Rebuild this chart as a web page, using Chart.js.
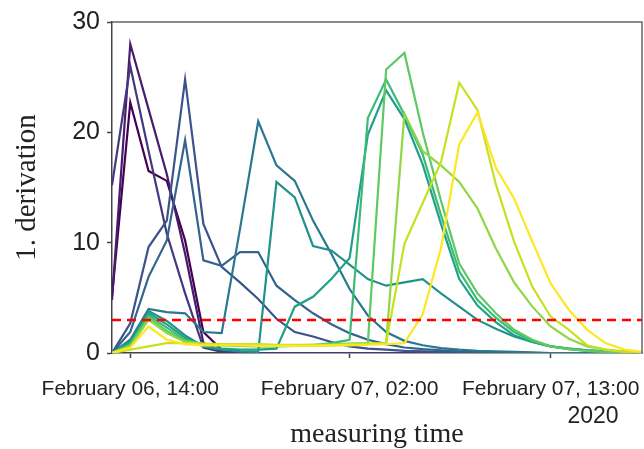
<!DOCTYPE html>
<html>
<head>
<meta charset="utf-8">
<script src="https://cdn.jsdelivr.net/npm/chart.js@4.4.1/dist/chart.umd.min.js"></script>
<style>
  body { margin: 0; background: #fff; }
</style>
</head>
<body>
<canvas id="derivChart" width="644" height="449"></canvas>
<script>
// hours counted from February 06, 00:00 - one reading per hour
const hours = [13, 14, 15, 16, 17, 18, 19, 20, 21, 22, 23, 24, 25, 26, 27,
               28, 29, 30, 31, 32, 33, 34, 35, 36, 37, 38, 39, 40, 41, 42];

// first derivative per measuring point, ordered by when the peak comes
const point01 = [5.1, 22.7, 16.5, 15.6, 10.2, 1.9, 0.3, 0.1, 0, 0, 0, 0, 0, 0, 0, 0, 0, 0, 0, 0, 0, 0, 0, 0, 0, 0, 0, 0, 0, 0];
const point02 = [4.8, 28.0, 22.1, 16.2, 9.0, 0.9, 0.2, 0.05, 0, 0, 0, 0, 0, 0, 0, 0, 0, 0, 0, 0, 0, 0, 0, 0, 0, 0, 0, 0, 0, 0];
const point03 = [15.2, 26.0, 18.3, 10.8, 5.4, 0.5, 0.1, 0, 0, 0, 0, 0, 0, 0, 0, 0, 0, 0, 0, 0, 0, 0, 0, 0, 0, 0, 0, 0, 0, 0];
const point04 = [0, 2.7, 9.6, 12.0, 24.8, 11.7, 7.8, 6.4, 4.9, 3.1, 1.9, 1.5, 1.0, 0.6, 0.4, 0.3, 0.2, 0.15, 0.1, 0.05, 0, 0, 0, 0, 0, 0, 0, 0, 0, 0];
const point05 = [0, 1.9, 6.9, 10.2, 19.3, 8.4, 7.9, 9.15, 9.15, 6.1, 4.8, 3.6, 2.6, 1.8, 1.2, 0.8, 0.5, 0.35, 0.25, 0.15, 0.1, 0.05, 0, 0, 0, 0, 0, 0, 0, 0];
const point06 = [0, 1.2, 4.0, 3.7, 3.6, 1.9, 1.8, 11.2, 21.0, 17.0, 15.6, 12.0, 9.0, 5.8, 3.4, 1.9, 1.1, 0.7, 0.45, 0.3, 0.2, 0.15, 0.1, 0.05, 0, 0, 0, 0, 0, 0];
const point07 = [0, 1.0, 3.8, 2.9, 1.6, 0.6, 0.3, 0.15, 0.1, 15.5, 14.1, 9.7, 9.3, 8.0, 6.7, 6.1, 6.4, 6.7, 5.4, 4.2, 3.0, 2.2, 1.5, 1.0, 0.6, 0.4, 0.25, 0.15, 0.1, 0.05];
const point08 = [0, 1.0, 3.6, 2.6, 1.4, 0.6, 0.4, 0.3, 0.3, 0.4, 4.2, 5.1, 6.7, 8.6, 19.8, 23.8, 21.2, 17.1, 11.7, 6.7, 4.3, 2.8, 1.6, 1.0, 0.6, 0.4, 0.25, 0.15, 0.1, 0.05];
const point09 = [0, 0.8, 3.4, 2.3, 1.2, 0.8, 0.7, 0.65, 0.6, 0.6, 0.65, 0.7, 0.9, 1.2, 21.3, 24.8, 21.6, 18.0, 12.5, 7.4, 4.8, 3.2, 1.9, 1.1, 0.6, 0.35, 0.2, 0.1, 0.05, 0];
const point10 = [0, 0.7, 3.2, 2.0, 1.1, 0.8, 0.75, 0.7, 0.7, 0.7, 0.7, 0.75, 0.8, 0.85, 0.9, 25.7, 27.2, 20.0, 13.8, 8.1, 5.4, 3.6, 2.1, 1.2, 0.6, 0.35, 0.2, 0.1, 0.05, 0];
const point11 = [0, 0.6, 3.0, 1.8, 1.0, 0.8, 0.8, 0.75, 0.75, 0.7, 0.7, 0.7, 0.7, 0.75, 0.8, 0.9, 21.7, 18.3, 17.0, 15.5, 13.1, 9.5, 6.4, 4.2, 2.4, 1.3, 0.6, 0.3, 0.15, 0.05];
const point12 = [0, 0.3, 0.6, 0.9, 0.9, 0.85, 0.8, 0.8, 0.8, 0.75, 0.75, 0.75, 0.75, 0.8, 0.85, 0.9, 9.9, 13.6, 17.3, 24.5, 22.0, 15.3, 10.1, 6.0, 3.3, 2.1, 0.7, 0.3, 0.1, 0.05];
const point13 = [0, 0.5, 2.4, 1.2, 0.8, 0.7, 0.7, 0.7, 0.65, 0.65, 0.65, 0.65, 0.7, 0.7, 0.75, 0.8, 0.9, 3.5, 9.5, 18.9, 21.8, 16.8, 14.0, 10.1, 6.3, 3.9, 2.1, 0.9, 0.33, 0.1];

const seriesValues = [point01, point02, point03, point04, point05, point06, point07,
                      point08, point09, point10, point11, point12, point13];
// viridis, dark to light
const seriesColors = ['#440154', '#481b6d', '#453781', '#3b528b', '#32648e', '#2a788e', '#21918c',
                      '#1fa187', '#3bbb75', '#5ec962', '#8fd744', '#c8e020', '#fde725'];

const thresholdValue = 3;
const yTicks = [0, 10, 20, 30];
const tickHours = [14, 26, 37];
const tickLabels = ['February 06, 14:00', 'February 07, 02:00', 'February 07, 13:00'];
const yearLabel = '2020';

const sansFont = "'Liberation Sans', Arial, sans-serif";
const serifFont = "'Liberation Serif', 'Times New Roman', serif";

const datasets = seriesValues.map((vals, i) => ({
    data: vals.map((v, j) => ({x: hours[j], y: v})),
    borderColor: seriesColors[i],
    borderWidth: 2.2,
    pointRadius: 0,
    tension: 0,
    fill: false,
    order: seriesValues.length - i   // lighter lines end up on top
}));

datasets.push({
    data: [{x: hours[0], y: thresholdValue}, {x: hours[hours.length - 1], y: thresholdValue}],
    borderColor: '#ff0000',
    borderWidth: 2.5,
    borderDash: [9, 6],
    pointRadius: 0,
    fill: false,
    order: -1
});

// closes the box on top/right and puts the year under the last tick
const frameAndYear = {
    id: 'frameAndYear',
    afterDraw(chart) {
        const {ctx, chartArea} = chart;
        ctx.save();
        ctx.strokeStyle = '#666';
        ctx.lineWidth = 1.5;
        ctx.beginPath();
        ctx.moveTo(chartArea.left, chartArea.top);
        ctx.lineTo(chartArea.right, chartArea.top);
        ctx.lineTo(chartArea.right, chartArea.bottom);
        ctx.stroke();
        ctx.fillStyle = '#222';
        ctx.font = '23px ' + sansFont;
        ctx.textAlign = 'center';
        ctx.textBaseline = 'middle';
        ctx.fillText(yearLabel, 593, 417);
        ctx.restore();
    }
};

new Chart(document.getElementById('derivChart'), {
    type: 'line',
    data: {datasets: datasets},
    plugins: [frameAndYear],
    options: {
        responsive: false,
        animation: false,
        devicePixelRatio: 1,
        layout: {padding: {top: 21, right: 2, left: 0, bottom: 0}},
        plugins: {legend: {display: false}, tooltip: {enabled: false}},
        scales: {
            x: {
                type: 'linear',
                min: hours[0],
                max: hours[hours.length - 1],
                afterFit: scale => {
                    scale.height = 96;
                    // the last label may run to the canvas edge
                    scale.paddingLeft = 0;
                    scale.paddingRight = 0;
                },
                afterBuildTicks: scale => { scale.ticks = tickHours.map(v => ({value: v})); },
                border: {color: '#444', width: 1.5},
                grid: {drawOnChartArea: false, tickLength: 5, tickColor: '#444', tickWidth: 1.5},
                ticks: {
                    autoSkip: false,
                    maxRotation: 0,
                    padding: 19,
                    color: '#222',
                    font: {family: sansFont, size: 21},
                    callback: v => tickLabels[tickHours.indexOf(v)]
                },
                title: {
                    display: true,
                    text: 'measuring time',
                    color: '#222',
                    font: {family: serifFont, size: 28, lineHeight: 1},
                    padding: {top: 0, bottom: 0}
                }
            },
            y: {
                min: 0,
                max: 30,
                afterFit: scale => { scale.width = 112; },
                afterBuildTicks: scale => { scale.ticks = yTicks.map(v => ({value: v})); },
                border: {color: '#444', width: 1.5},
                grid: {drawOnChartArea: false, tickLength: 5, tickColor: '#444', tickWidth: 1.5},
                ticks: {
                    padding: 7,
                    color: '#222',
                    font: {family: sansFont, size: 25}
                },
                title: {
                    display: true,
                    text: '1. derivation',
                    color: '#222',
                    font: {family: serifFont, size: 29, lineHeight: 1},
                    padding: {top: 13, bottom: 0}
                }
            }
        }
    }
});
</script>
</body>
</html>
